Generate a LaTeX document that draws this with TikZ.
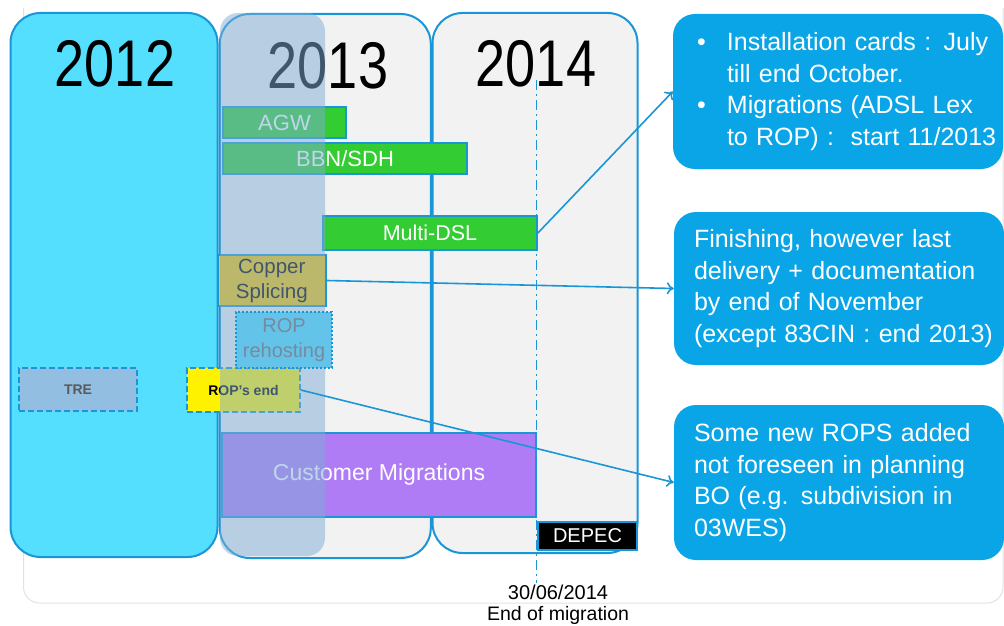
\documentclass[tikz,border=0pt]{standalone}
\usepackage{fontspec}
\setmainfont{Liberation Sans}
\newfontfamily\yearfont{Liberation Sans}[FakeStretch=0.82]
\usetikzlibrary{arrows.meta}
\definecolor{rimblue}{RGB}{25,150,215}
\definecolor{sky}{RGB}{85,223,255}
\definecolor{pale}{RGB}{242,242,242}
\definecolor{haze}{RGB}{128,173,214}
\definecolor{notefill}{RGB}{10,165,230}
\definecolor{barg}{RGB}{51,204,51}
\definecolor{gold}{RGB}{250,197,0}
\definecolor{lilac}{RGB}{176,124,245}
\definecolor{rehostfill}{RGB}{100,195,232}
\definecolor{treblue}{RGB}{146,190,225}
\definecolor{framegray}{RGB}{226,226,226}
\definecolor{slate}{RGB}{120,138,158}
\definecolor{darkgray}{RGB}{90,90,90}
\tikzset{ %columns, bars and notes
  {yearcol/.style} ={draw=rimblue,line width=2pt,rounded corners=30pt,inner sep=0},
  {yearlabel/.style} ={font=\yearfont\fontsize{66}{66}\selectfont},
  {veil/.style} ={fill=haze,fill opacity=.5,rounded corners=18pt,inner sep=0},
  {taskbar/.style} ={draw=rimblue,line width=1.8pt,fill=barg,text=white,
                inner sep=0,font=\fontsize{22}{22}\selectfont},
  {smallbar/.style} ={taskbar,line width=1.5pt,dash pattern=on 6pt off 3pt,
                font=\bfseries\fontsize{14}{14}\selectfont},
  {notebox/.style} ={fill=notefill,rounded corners=22pt,text=white,align=left,
                text width=290pt,inner xsep=20pt,inner ysep=0,
                font=\fontsize{25}{31.5}\selectfont},
  {milestone/.style} ={draw=rimblue,line width=1.5pt,
                dash pattern=on 10pt off 4pt on 2pt off 4pt},
  {link/.style} ={draw=rimblue,line width=1.6pt,-{To[length=7pt,width=12pt]}},
  {datelabel/.style} ={font=\fontsize{20}{20}\selectfont},
}
\newcommand{\notelines}[1]{\begin{tabular}{@{}l@{}}#1\end{tabular}}
\newcommand{\notebullet}{\makebox[34pt][l]{\hspace*{4pt}\textbullet}}
\begin{document}
\begin{tikzpicture}[x=1pt,y=-1pt]
\useasboundingbox (0,0) rectangle (1004,626);
\draw[framegray,line width=1pt,rounded corners=16pt] (23.5,8) -- (23.5,603) -- (1003,603) -- (1003,8);
% years
\node[yearcol,fill=sky,minimum width=207pt,minimum height=544pt] (y12) at (114,285) {};
\node[yearcol,fill=pale,minimum width=211pt,minimum height=544pt] (y13) at (325.3,286) {};
\node[yearcol,fill=pale,minimum width=205pt,minimum height=540pt] (y14) at (535,283) {};
\node[yearlabel] (t12) at (115,64) {2012};
\node[yearlabel] (t13) at (328,66) {2013};
\node[yearlabel] (t14) at (536,64) {2014};
\coordinate (mtop) at (536.5,80);
\coordinate (mbot) at (536.5,583);
\draw[milestone] (mtop) -- (mbot);
% tasks
\node[taskbar,minimum width=123pt,minimum height=31pt] (agw) at (284.5,122.5) {AGW};
\node[taskbar,minimum width=244pt,minimum height=31pt] (bbn) at (345,158.5) {BBN/SDH};
\node[taskbar,minimum width=214pt,minimum height=34pt,
      font=\fontsize{21.5}{21.5}\selectfont] (dsl) at (430,233) {Multi-DSL};
\node[taskbar,fill=gold,text=black,align=center,minimum width=108pt,minimum height=51pt,
      font=\fontsize{20.5}{25}\selectfont] (copper) at (271.8,280.5) {Copper\\Splicing};
\node[smallbar,fill=treblue,text=darkgray,minimum width=118pt,minimum height=43pt] (tre) at (78,389.5) {TRE};
\node[smallbar,fill=yellow,text=black,minimum width=113pt,minimum height=44pt] (ropend) at (243.5,390) {ROP's end};
\node[taskbar,fill=lilac,minimum width=314pt,minimum height=84pt,
      font=\fontsize{23}{23}\selectfont] (custmig) at (379,475) {Customer Migrations};
\node[veil,minimum width=105pt,minimum height=543pt] (h13) at (272.5,284.5) {};
\node[taskbar,line width=1.5pt,dash pattern=on 2pt off 2pt,fill=rehostfill,text=slate,align=center,
      minimum width=96pt,minimum height=56pt,font=\fontsize{20}{25}\selectfont] (rehost) at (284,340) {ROP\\rehosting};
\node[taskbar,fill=black,minimum width=99pt,minimum height=28pt,
      font=\fontsize{20}{20}\selectfont] (depec) at (587.5,536) {DEPEC};
\node[datelabel] (date) at (558,592) {30/06/2014};
\node[datelabel,font=\fontsize{19.5}{19.5}\selectfont] (endmig) at (558,615) {End of migration};
% notes
\node[notebox,minimum height=155pt] (n1) at (838,91.5) {\notelines{%
\notebullet Installation cards : July\\
\hspace*{34pt}till end October.\\
\notebullet Migrations (ADSL Lex\\
\hspace*{34pt}to ROP) :~ start 11/2013}};
\node[notebox,minimum height=153pt] (n2) at (839,288.5) {\notelines{Finishing, however last\\
delivery + documentation\\by end of November\\(except 83CIN : end 2013)}};
\node[notebox,minimum height=155pt] (n3) at (839,482.5) {\notelines{Some new ROPS added\\
not foreseen in planning\\BO (e.g. subdivision in\\03WES)}};
\draw[link] (dsl.east) -- (n1.west);
\draw[link] (copper.east) -- (n2.west);
\draw[link] (ropend.east) -- (n3.west);
\end{tikzpicture}
\end{document}
